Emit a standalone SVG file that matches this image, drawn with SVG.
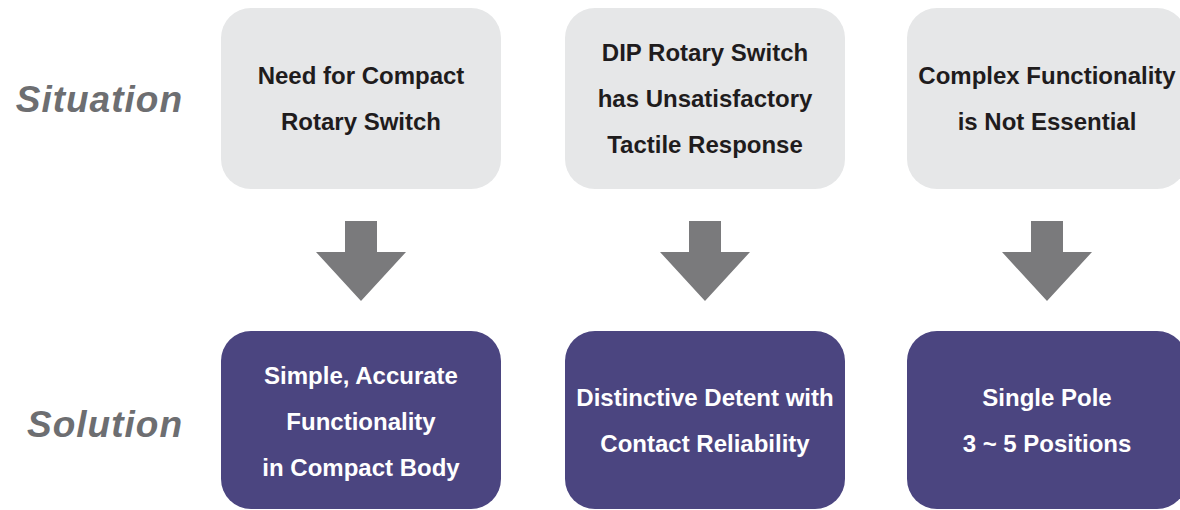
<svg xmlns="http://www.w3.org/2000/svg" width="1180" height="510" viewBox="0 0 1180 510">
<style>
.sit{fill:#e6e7e8}
.sol{fill:#4b4580}
.t{font-family:"Liberation Sans",Arial,sans-serif;font-weight:bold;font-size:24px;text-anchor:middle}
.dk{fill:#1f1c1d}
.lt{fill:#ffffff}
.lab{font-family:"Liberation Sans",Arial,sans-serif;font-weight:bold;font-style:italic;font-size:37px;letter-spacing:1px;fill:#6d6e71;text-anchor:end}
.arr{fill:#7a7a7c}
</style>
<defs>
<path id="arrow" d="M-16,0 H16 V31 H45 L0,80 L-45,31 H-16 Z"/>
</defs>
<text class="lab" x="183" y="112">Situation</text>
<text class="lab" x="183" y="437">Solution</text>
<g id="s1">
<rect class="sit" x="221" y="8" width="280" height="181" rx="30"/>
<text class="t dk" x="361" y="84">Need for Compact</text>
<text class="t dk" x="361" y="130">Rotary Switch</text>
</g>
<g id="s2">
<rect class="sit" x="565" y="8" width="280" height="181" rx="30"/>
<text class="t dk" x="705" y="61">DIP Rotary Switch</text>
<text class="t dk" x="705" y="107">has Unsatisfactory</text>
<text class="t dk" x="705" y="153">Tactile Response</text>
</g>
<g id="s3">
<rect class="sit" x="907" y="8" width="280" height="181" rx="30"/>
<text class="t dk" x="1047" y="84">Complex Functionality</text>
<text class="t dk" x="1047" y="130">is Not Essential</text>
</g>
<g id="connectors">
<use href="#arrow" class="arr" x="361" y="221"/>
<use href="#arrow" class="arr" x="705" y="221"/>
<use href="#arrow" class="arr" x="1047" y="221"/>
</g>
<g id="r1">
<rect class="sol" x="221" y="331" width="280" height="178" rx="30"/>
<text class="t lt" x="361" y="384">Simple, Accurate</text>
<text class="t lt" x="361" y="430">Functionality</text>
<text class="t lt" x="361" y="476">in Compact Body</text>
</g>
<g id="r2">
<rect class="sol" x="565" y="331" width="280" height="178" rx="30"/>
<text class="t lt" x="705" y="406">Distinctive Detent with</text>
<text class="t lt" x="705" y="452">Contact Reliability</text>
</g>
<g id="r3">
<rect class="sol" x="907" y="331" width="280" height="178" rx="30"/>
<text class="t lt" x="1047" y="406">Single Pole</text>
<text class="t lt" x="1047" y="452">3 ~ 5 Positions</text>
</g>
</svg>
